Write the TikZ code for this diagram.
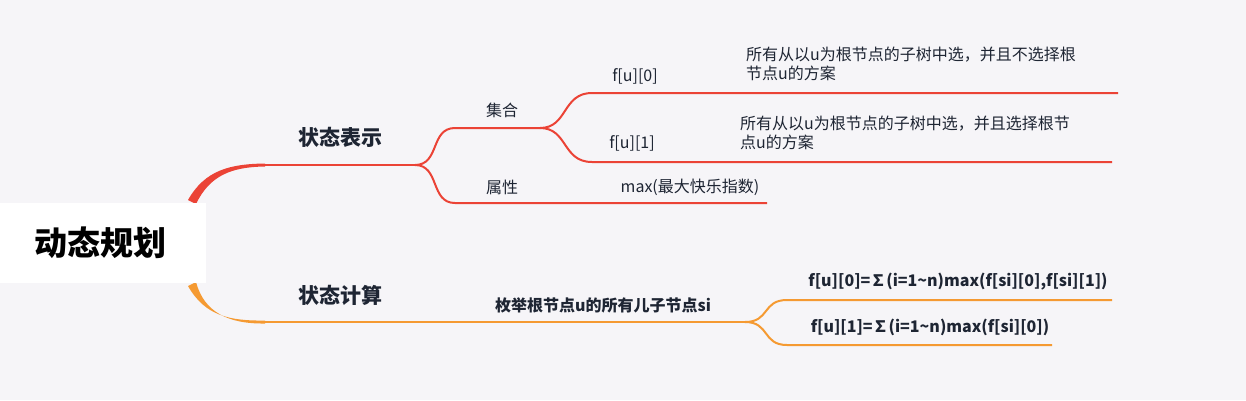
\documentclass[tikz,border=0pt]{standalone}
\usepackage{fontspec}
\setmainfont{Noto Sans CJK SC}
\definecolor{bg}{HTML}{F6F5F8}
\definecolor{rd}{HTML}{EB4336}
\definecolor{og}{HTML}{F59A32}
\definecolor{tx}{HTML}{1E2533}
\begin{document}
\begin{tikzpicture}[x=1pt,y=-1pt,
  rl/.style={draw=rd,line width=2pt},
  ol/.style={draw=og,line width=2pt},
  lab/.style={text=tx,font=\fontsize{16}{19}\selectfont,inner sep=0pt},
  blab/.style={text=tx,font=\fontsize{16}{19}\selectfont\bfseries,inner sep=0pt},
  big/.style={text=tx,font=\fontsize{21}{24}\selectfont\bfseries,inner sep=0pt}]
\fill[bg] (0,0) rectangle (1246,400);
\useasboundingbox (0,0) rectangle (1246,400);
% red branch
\coordinate (r1) at (265,165);
\coordinate (r2) at (415,165);
\fill[rd] (188,200) .. controls (205,170) and (230,164) .. (265,163.5) -- (265,166.5) .. controls (232,167) and (210,175) .. (196,204) -- cycle;
\draw[rl] (r1) -- (r2);
\node[big] (s1) at (340,137) {状态表示};
\coordinate (a1) at (455,128); \coordinate (a2) at (540,128);
\coordinate (b1) at (455,203); \coordinate (b2) at (767,203);
\draw[rl] (r2) .. controls (440,165) and (430,128) .. (a1) -- (a2);
\draw[rl] (r2) .. controls (440,165) and (430,203) .. (b1) -- (b2);
\node[lab] (jh) at (502,110) {集合};
\node[lab] (sx) at (502,187) {属性};
\node[lab] (mx) at (690,187) {max(最大快乐指数)};
\coordinate (c1) at (592,93); \coordinate (c2) at (1118,93);
\coordinate (d1) at (592,162); \coordinate (d2) at (1112,162);
\draw[rl] (a2) .. controls (568,128) and (562,93) .. (c1) -- (c2);
\draw[rl] (a2) .. controls (568,128) and (562,162) .. (d1) -- (d2);
\node[lab] (f0) at (635,76) {f[u][0]};
\node[lab] (f1) at (632,143) {f[u][1]};
\node[lab,align=left,anchor=west] (t0) at (746,64) {所有从以u为根节点的子树中选，并且不选择根\\节点u的方案};
\node[lab,align=left,anchor=west] (t1) at (740,133) {所有从以u为根节点的子树中选，并且选择根节\\点u的方案};
% orange branch
\fill[og] (188,286) .. controls (205,316) and (230,321) .. (265,320.5) -- (265,323.5) .. controls (228,324) and (204,312) .. (196,282) -- cycle;
\coordinate (o1) at (265,322); \coordinate (o2) at (745,322);
\draw[ol] (o1) -- (o2);
\node[big] (s2) at (340,295) {状态计算};
\node[blab] (mj) at (603,305) {枚举根节点u的所有儿子节点si};
\coordinate (e1) at (787,300); \coordinate (e2) at (1112,300);
\coordinate (g1) at (787,345); \coordinate (g2) at (1052,345);
\draw[ol] (o2) .. controls (770,322) and (762,300) .. (e1) -- (e2);
\draw[ol] (o2) .. controls (770,322) and (762,345) .. (g1) -- (g2);
\node[blab] (q0) at (958,282) {f[u][0]=∑(i=1\textasciitilde n)max(f[si][0],f[si][1])};
\node[blab] (q1) at (930,327) {f[u][1]=∑(i=1\textasciitilde n)max(f[si][0])};
% root
\fill[white] (0,203) rectangle (206,283);
\node[text=black,font=\fontsize{33}{36}\selectfont\bfseries,inner sep=0pt] (root) at (100,243) {动态规划};
\end{tikzpicture}
\end{document}
